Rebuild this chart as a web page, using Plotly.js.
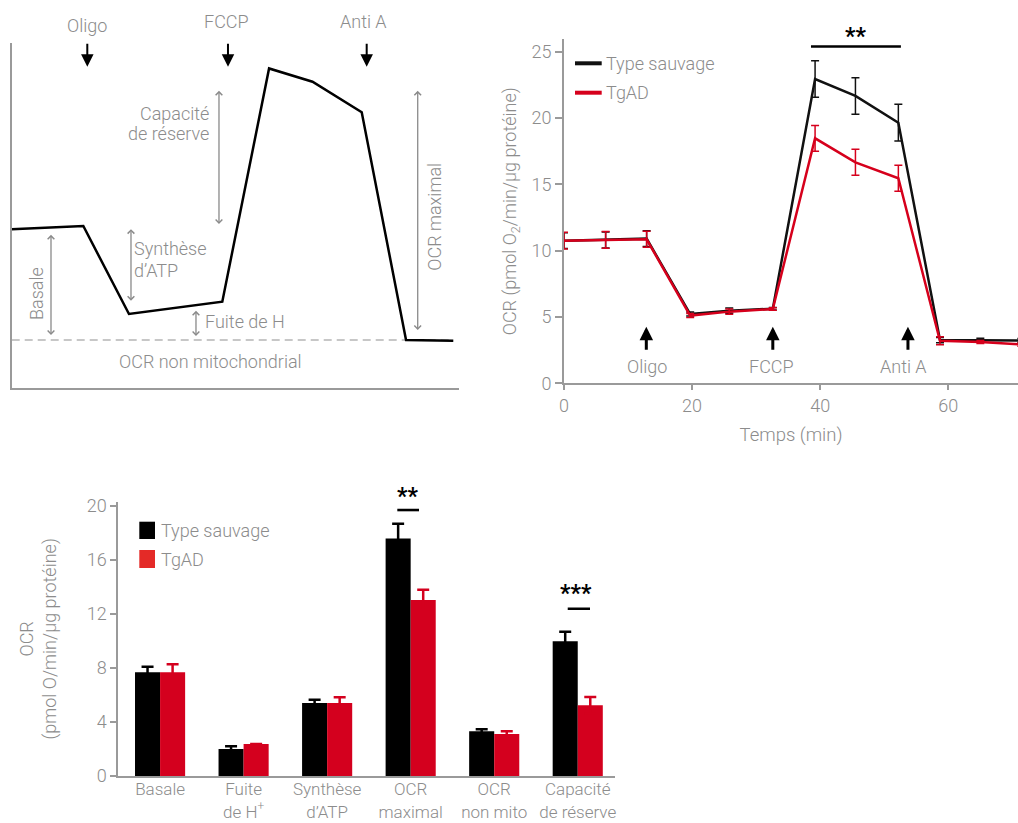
<!DOCTYPE html>
<html><head><meta charset="utf-8">
<script src="https://cdn.plot.ly/plotly-3.0.1.min.js"></script>
<style>html,body{margin:0;padding:0;background:#fff}#chart{width:1018px;height:823px}</style>
</head><body><div id="chart"></div>
<script>
// ---------- Panel A : schematic (arbitrary units) ----------
const schemX = [0, 16.0, 26.2, 47.05, 57.5, 67.2, 78.2, 88.1, 98.66];
const schemY = [46.0, 46.95, 21.4, 24.97, 92.7, 88.85, 79.97, 13.85, 13.65];
const schemNonMito = 13.85;

// ---------- Panel B : OCR time course ----------
const timeMin  = [0, 6.5, 12.9, 19.7, 25.8, 32.6, 39.2, 45.5, 52.2, 58.7, 65.0, 71.4];
const ocrWT    = [10.75, 10.8, 10.9, 5.22, 5.47, 5.62, 22.93, 21.65, 19.64, 3.26, 3.24, 3.22];
const ocrWTErr = [0.6, 0.6, 0.6, 0.15, 0.2, 0.1, 1.38, 1.38, 1.38, 0.2, 0.15, 0.15];
const ocrTg    = [10.75, 10.8, 10.85, 5.1, 5.4, 5.6, 18.46, 16.65, 15.45, 3.21, 3.11, 2.92];
const ocrTgErr = [0.63, 0.63, 0.6, 0.15, 0.2, 0.1, 0.97, 0.98, 0.98, 0.3, 0.12, 0.12];
const yTicksB  = [0, 5, 10, 15, 20, 25];
const xTicksB  = [0, 20, 40, 60];

// ---------- Panel C : summary bars ----------
const categories = ['Basale', 'Fuite<br>de H<sup>+</sup>', 'Synthèse<br>d’ATP', 'OCR<br>maximal', 'OCR<br>non mito', 'Capacité<br>de réserve'];
const barWT    = [7.68, 2.0, 5.41, 17.6, 3.31, 9.98];
const barWTErr = [0.42, 0.2, 0.24, 1.09, 0.15, 0.71];
const barTg    = [7.68, 2.37, 5.41, 13.04, 3.11, 5.24];
const barTgErr = [0.59, 0.0, 0.42, 0.76, 0.2, 0.61];
const yTicksC  = [0, 4, 8, 12, 16, 20];

const nameWT = 'Type sauvage', nameTg = 'TgAD';

// ---------- styling ----------
const W = 1018, H = 823;
const fx = px => px / W, fy = py => 1 - py / H;
const gray = '#8c8c8c', axisGray = '#9a9a9a', red = '#d6001c', redBar = '#d4001e', blk = '#111111';
const FONT = 'Roboto, "Open Sans", sans-serif';
const txt = (size, color) => ({family: FONT, size: size || 18, color: color || gray, weight: 300});

const traces = [
  {x: [schemX[0], schemX[schemX.length - 1]], y: [schemNonMito, schemNonMito], xaxis: 'x', yaxis: 'y',
   mode: 'lines', line: {color: '#b5b5b5', width: 1.3, dash: '8px,5px'}, hoverinfo: 'skip'},
  {x: schemX, y: schemY, xaxis: 'x', yaxis: 'y', mode: 'lines', line: {color: '#000', width: 2.5}},
  {name: nameWT, x: timeMin, y: ocrWT, xaxis: 'x2', yaxis: 'y2', mode: 'lines',
   line: {color: blk, width: 2.5},
   error_y: {type: 'data', array: ocrWTErr, color: blk, thickness: 1.5, width: 4}},
  {name: nameTg, x: timeMin, y: ocrTg, xaxis: 'x2', yaxis: 'y2', mode: 'lines',
   line: {color: red, width: 2.5},
   error_y: {type: 'data', array: ocrTgErr, color: red, thickness: 1.5, width: 4}},
  {name: nameWT, type: 'bar', x: categories, y: barWT, xaxis: 'x3', yaxis: 'y3',
   marker: {color: '#000'},
   error_y: {type: 'data', array: barWTErr, color: '#000', thickness: 2.5, width: 6}},
  {name: nameTg, type: 'bar', x: categories, y: barTg, xaxis: 'x3', yaxis: 'y3',
   marker: {color: redBar},
   error_y: {type: 'data', array: barTgErr, color: redBar, thickness: 2.5, width: 6}}
];

const axBase = {showline: true, linecolor: axisGray, linewidth: 2, showgrid: false, zeroline: false,
  tickcolor: axisGray, tickwidth: 2, tickfont: txt(18), fixedrange: true};

const layout = {
  width: W, height: H, margin: {l: 0, r: 0, t: 0, b: 0},
  paper_bgcolor: '#fff', plot_bgcolor: 'rgba(0,0,0,0)', showlegend: false,
  font: txt(18), bargap: 0.4, bargroupgap: 0, barmode: 'group',
  xaxis: Object.assign({}, axBase, {domain: [fx(11.7), fx(459.3)], range: [0, 100], anchor: 'y',
    showticklabels: false, ticks: ''}),
  yaxis: Object.assign({}, axBase, {domain: [fy(387.7), fy(43.3)], range: [0, 100], anchor: 'x',
    showticklabels: false, ticks: ''}),
  xaxis2: Object.assign({}, axBase, {domain: [fx(564), 1], range: [0, 70.88], anchor: 'y2',
    tickvals: xTicksB, ticks: 'outside', ticklen: 5,
    title: {text: 'Temps (min)', font: txt(18.5), standoff: 13}}),
  yaxis2: Object.assign({}, axBase, {domain: [fy(383.3), fy(39.3)], range: [0, 25.92], anchor: 'x2',
    tickvals: yTicksB, ticks: 'outside', ticklen: 7,
    title: {text: 'OCR (pmol O<sub>2</sub>/min/µg protéine)', font: txt(18), standoff: 10}}),
  xaxis3: Object.assign({}, axBase, {domain: [fx(118.3), fx(615)], range: [-0.5, 5.446], anchor: 'y3',
    type: 'category', ticks: '', tickfont: txt(17), ticklabelstandoff: -3}),
  yaxis3: Object.assign({}, axBase, {domain: [fy(776), fy(501.7)], range: [0, 20.32], anchor: 'x3',
    tickvals: yTicksC, ticks: 'outside', ticklen: 6,
    title: {text: 'OCR<br>(pmol O/min/µg protéine)', font: txt(18), standoff: 25}}),
  shapes: [], annotations: []
};

const P = (px, py) => ({x: fx(px), y: fy(py), xref: 'paper', yref: 'paper'});
const label = (text, px, py, opts) => Object.assign(P(px, py), {text: text, showarrow: false,
  font: txt(18), xanchor: 'center', yanchor: 'middle'}, opts || {});
const star = (text, px, py) => Object.assign(P(px, py), {text: text, showarrow: false,
  font: {family: FONT, size: 23, color: '#000', weight: 700}, xanchor: 'center', yanchor: 'middle'});

// Panel A labels
const A = layout.annotations;
A.push(label('Oligo', 86.7, 25));
A.push(label('FCCP', 226.7, 21.7));
A.push(label('Anti A', 363.3, 21.7));
A.push(label('Capacité', 210.7, 113.3, {xanchor: 'right'}));
A.push(label('de réserve', 210.7, 133.3, {xanchor: 'right'}));
A.push(label('Synthèse', 132, 248.3, {xanchor: 'left'}));
A.push(label('d’ATP', 132, 270, {xanchor: 'left'}));
A.push(label('Basale', 36.7, 293.3, {textangle: -90}));
A.push(label('Fuite de H', 202.5, 321.7, {xanchor: 'left'}));
A.push(label('OCR maximal', 435, 216.7, {textangle: -90}));
A.push(label('OCR non mitochondrial', 210, 361.7));

// Panel A arrows (schematic axis units)
const dbl = (x, y0, y1) => ({x: x, y: y1, ax: x, ay: y0, xref: 'x', yref: 'y', axref: 'x', ayref: 'y',
  text: '', showarrow: true, arrowside: 'end+start', arrowhead: 4, startarrowhead: 4,
  arrowsize: 1, startarrowsize: 1, arrowwidth: 1.3, arrowcolor: '#8a8a8a', standoff: 0, startstandoff: 0});
A.push(dbl(46.31, 86.64, 47.53));
A.push(dbl(26.65, 46.46, 25.26));
A.push(dbl(8.78, 44.83, 15.30));
A.push(dbl(41.17, 22.76, 15.01));
A.push(dbl(90.71, 86.64, 16.75));
const down = x => ({x: x, y: 93.2, ax: x, ay: 100.3, xref: 'x', yref: 'y', axref: 'x', ayref: 'y',
  text: '', showarrow: true, arrowhead: 2, arrowsize: 1.25, arrowwidth: 2, arrowcolor: '#000', standoff: 0});
A.push(down(16.89)); A.push(down(48.32)); A.push(down(79.31));

// Panel B injection arrows + labels
const up = x => ({x: x, y: 4.27, ax: x, ay: 2.42, xref: 'x2', yref: 'y2', axref: 'x2', ayref: 'y2',
  text: '', showarrow: true, arrowhead: 2, arrowsize: 0.9, arrowwidth: 3, arrowcolor: '#000', standoff: 0});
A.push(up(12.85)); A.push(up(32.6)); A.push(up(53.7));
const dl = (text, x, y) => ({x: x, y: y, xref: 'x2', yref: 'y2', text: text, showarrow: false,
  font: txt(18), xanchor: 'center', yanchor: 'middle'});
A.push(dl('Oligo', 12.9, 1.25)); A.push(dl('FCCP', 32.43, 1.25)); A.push(dl('Anti A', 52.93, 1.25));

// significance markers
A.push(star('**', 855, 36));
layout.shapes.push({type: 'line', xref: 'x2', yref: 'y2', x0: 38.56, x1: 52.6, y0: 25.37, y1: 25.37,
  line: {color: '#000', width: 2.5}});
A.push(star('**', 407.3, 496));
layout.shapes.push({type: 'line', xref: 'x3', yref: 'y3', x0: 2.84, x1: 3.10, y0: 19.7, y1: 19.7,
  line: {color: '#000', width: 2.5}});
A.push(star('***', 576.3, 593));
layout.shapes.push({type: 'line', xref: 'x3', yref: 'y3', x0: 4.88, x1: 5.147, y0: 12.39, y1: 12.39,
  line: {color: '#000', width: 2.5}});

// Legends (drawn manually)
layout.shapes.push({type: 'line', xref: 'paper', yref: 'paper', x0: fx(575), x1: fx(601.7), y0: fy(63.3), y1: fy(63.3), line: {color: blk, width: 4}});
layout.shapes.push({type: 'line', xref: 'paper', yref: 'paper', x0: fx(575), x1: fx(601.7), y0: fy(92.7), y1: fy(92.7), line: {color: red, width: 4}});
A.push(label(nameWT, 604, 63.3, {xanchor: 'left'}));
A.push(label(nameTg, 604, 92.7, {xanchor: 'left'}));
layout.shapes.push({type: 'rect', xref: 'paper', yref: 'paper', x0: fx(139.3), x1: fx(155), y0: fy(539), y1: fy(521.7), fillcolor: '#000', line: {width: 0}});
layout.shapes.push({type: 'rect', xref: 'paper', yref: 'paper', x0: fx(139.3), x1: fx(155), y0: fy(568), y1: fy(550), fillcolor: '#e42a27', line: {width: 0}});
A.push(label(nameWT, 158.5, 530, {xanchor: 'left'}));
A.push(label(nameTg, 158.5, 559, {xanchor: 'left'}));

Plotly.newPlot('chart', traces, layout, {displayModeBar: false, staticPlot: true});
</script>
</body></html>
